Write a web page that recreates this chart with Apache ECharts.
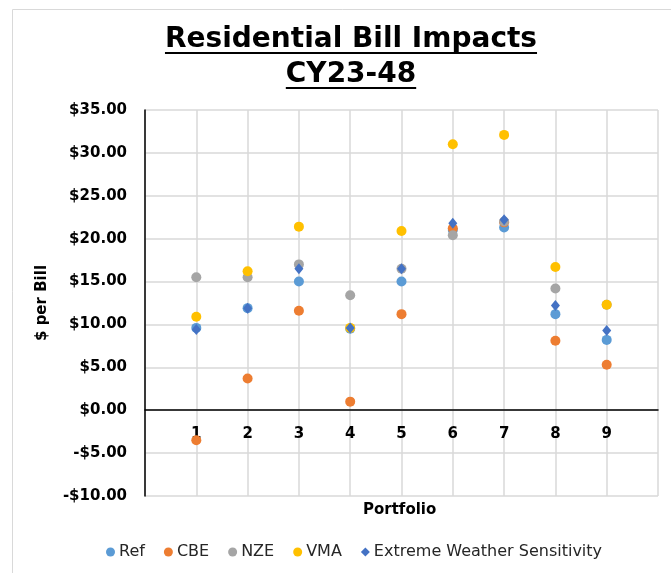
<!DOCTYPE html>
<html>
<head>
<meta charset="utf-8">
<script src="https://cdn.jsdelivr.net/npm/echarts@6/dist/echarts.min.js"></script>
<style>
  html, body { margin: 0; padding: 0; background: #fff; }
  #chart { width: 671px; height: 573px; }
</style>
</head>
<body>
<div id="chart"></div>
<script>
// portfolios 1..9
const portfolios = [1, 2, 3, 4, 5, 6, 7, 8, 9];
const ref = [9.6, 11.9, 15.0, 9.5, 15.0, 21.0, 21.3, 11.2, 8.2];
const cbe = [-3.5, 3.7, 11.6, 1.0, 11.2, 21.2, 21.9, 8.1, 5.3];
const nze = [15.5, 15.5, 17.0, 13.4, 16.5, 20.4, 22.0, 14.2, 12.3];
const vma = [10.9, 16.2, 21.4, 9.6, 20.9, 31.0, 32.1, 16.7, 12.3];
const ews = [9.4, 11.9, 16.5, 9.6, 16.5, 21.8, 22.2, 12.2, 9.3];

const yMin = -10;
const yMax = 35;
const yStep = 5;

const seriesDefs = [
  { name: 'Ref', data: ref, color: '#5B9BD5', symbol: 'circle' },
  { name: 'CBE', data: cbe, color: '#ED7D31', symbol: 'circle' },
  { name: 'NZE', data: nze, color: '#A5A5A5', symbol: 'circle' },
  { name: 'VMA', data: vma, color: '#FFC000', symbol: 'circle' },
  { name: 'Extreme Weather Sensitivity', data: ews, color: '#4472C4', symbol: 'diamond' },
];

const titleFont = 'bold 28px "DejaVu Sans", sans-serif';
const titleLines = ['Residential Bill Impacts', 'CY23-48'];
const measure = (txt, font) => {
  const ctx = document.createElement('canvas').getContext('2d');
  ctx.font = font;
  return ctx.measureText(txt).width;
};

const grid = { left: 145, top: 110, right: 13, bottom: 77 };
const gridHeight = 573 - grid.top - grid.bottom;
// pixel distance of the zero line above the grid bottom, for the label axis
const zeroOffset = (gridHeight * (0 - yMin)) / (yMax - yMin);

const myChart = echarts.init(document.getElementById('chart'));

const centerX = 351;
const titleGraphics = [];
titleLines.forEach((t, i) => {
  const w = measure(t, titleFont);
  titleGraphics.push({
    type: 'text',
    left: centerX - w / 2,
    top: 26 + i * 35,
    style: { text: t, font: titleFont, fill: '#000' },
  });
  titleGraphics.push({
    type: 'rect',
    left: centerX - w / 2,
    top: 52 + i * 35,
    shape: { width: w, height: 2 },
    style: { fill: '#000' },
  });
});

const option = {
  animation: false,
  textStyle: { fontFamily: '"DejaVu Sans", Verdana, sans-serif' },
  graphic: [
    {
      type: 'rect',
      left: 10,
      top: 7,
      shape: { width: 660, height: 565 },
      style: { fill: 'none', stroke: '#d9d9d9', lineWidth: 1 },
      z: -1,
    },
    ...titleGraphics,
    {
      type: 'text',
      left: 363,
      top: 503,
      style: {
        text: 'Portfolio',
        font: 'bold 15px "DejaVu Sans", sans-serif',
        fill: '#000',
      },
    },
  ],
  grid: grid,
  legend: {
    bottom: 8,
    left: 101,
    itemWidth: 9,
    itemHeight: 9,
    itemGap: 19,
    textStyle: { fontSize: 16, color: '#262626', padding: [0, 0, 0, -1] },
    data: seriesDefs.map(s => ({ name: s.name, icon: s.symbol })),
  },
  xAxis: [
    {
      type: 'value',
      min: 0,
      max: 10,
      interval: 1,
      axisLine: { show: true, onZero: true, lineStyle: { color: '#000', width: 1.5 } },
      axisTick: { show: false },
      axisLabel: { show: false },
      splitLine: { show: true, lineStyle: { color: '#d9d9d9', width: 1.5 } },
    },
    {
      // labels sit just under the zero line
      type: 'value',
      position: 'bottom',
      offset: -zeroOffset,
      min: 0,
      max: 10,
      interval: 1,
      axisLine: { show: false },
      axisTick: { show: false },
      splitLine: { show: false },
      axisLabel: {
        margin: 16,
        fontSize: 15,
        fontWeight: 'bold',
        color: '#000',
        formatter: v => (v >= 1 && v <= 9 ? String(v) : ''),
      },
    },
  ],
  yAxis: {
    type: 'value',
    min: yMin,
    max: yMax,
    interval: yStep,
    name: '$ per Bill',
    nameLocation: 'middle',
    nameGap: 95,
    nameTextStyle: { fontSize: 15, fontWeight: 'bold', color: '#000' },
    axisLine: { show: true, lineStyle: { color: '#000', width: 1.5 } },
    axisTick: { show: false },
    axisLabel: {
      margin: 18,
      fontSize: 15,
      fontWeight: 'bold',
      color: '#000',
      formatter: v => (v < 0 ? '-$' + Math.abs(v).toFixed(2) : '$' + v.toFixed(2)),
    },
    splitLine: { show: true, lineStyle: { color: '#d9d9d9', width: 1.5 } },
  },
  series: seriesDefs.map(s => ({
    name: s.name,
    type: 'scatter',
    xAxisIndex: 0,
    symbol: s.symbol,
    symbolSize: s.symbol === 'diamond' ? [9, 11] : 10,
    itemStyle: { color: s.color, opacity: 1 },
    data: portfolios.map((p, i) => [p, s.data[i]]),
  })),
};

myChart.setOption(option);
window.addEventListener('resize', () => myChart.resize());
</script>
</body>
</html>
